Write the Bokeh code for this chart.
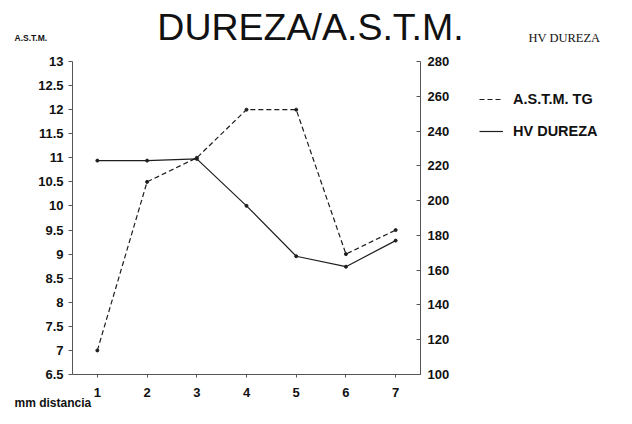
from bokeh.plotting import figure
from bokeh.models import Range1d, LinearAxis, FixedTicker, Legend, LegendItem, Label
from bokeh.embed import file_html
from bokeh.resources import INLINE

# ---- data ----
distance = [1, 2, 3, 4, 5, 6, 7]
astm_tg = [7, 10.5, 11, 12, 12, 9, 9.5]
hv_dureza = [223, 223, 224, 197, 168, 162, 177]

astm_ticks = [6.5, 7, 7.5, 8, 8.5, 9, 9.5, 10, 10.5, 11, 11.5, 12, 12.5, 13]
astm_tick_labels = ["6.5", "7", "7.5", "8", "8.5", "9", "9.5", "10", "10.5", "11", "11.5", "12", "12.5", "13"]
hv_ticks = [100, 120, 140, 160, 180, 200, 220, 240, 260, 280]

title_text = "DUREZA/A.S.T.M."
left_title = "A.S.T.M."
right_title = "HV DUREZA"
x_title = "mm distancia"
series_names = ["A.S.T.M. TG", "HV DUREZA"]

X_MIN, X_MAX = 0.5, 7.5
A_MIN, A_MAX = 6.5, 13
H_MIN, H_MAX = 100, 280

# ---- layout constants (pixels) ----
W, H = 616, 408
FL, FR, FT, FB = 72, 420, 61, 374   # plotting box on the canvas

FONT = "Liberation Sans"
INK = "#1e1e1e"
AXIS = "#555555"

xs = (X_MAX - X_MIN) / (FR - FL)
ys = (A_MAX - A_MIN) / (FB - FT)
hs = (H_MAX - H_MIN) / (FB - FT)

x_range = Range1d(X_MIN - FL * xs, X_MAX + (W - FR) * xs)
y_range = Range1d(A_MIN - (H - FB) * ys, A_MAX + FT * ys)
hv_range = Range1d(H_MIN - (H - FB) * hs, H_MAX + FT * hs)


def dx(px):
    return X_MIN + (px - FL) * xs


def dy(py):
    return A_MIN + (FB - py) * ys


p = figure(width=W, height=H, x_range=x_range, y_range=y_range,
           x_axis_type=None, y_axis_type=None,
           output_backend="svg", toolbar_location=None, min_border=0,
           min_border_left=0, min_border_right=0, min_border_top=0, min_border_bottom=0)
p.extra_y_ranges = {"hv": hv_range}
p.outline_line_color = None
p.background_fill_color = "white"
p.border_fill_color = "white"

xaxis = LinearAxis(fixed_location=A_MIN, bounds=(X_MIN, X_MAX), ticker=FixedTicker(ticks=distance))
laxis = LinearAxis(fixed_location=X_MIN, bounds=(A_MIN, A_MAX), ticker=FixedTicker(ticks=astm_ticks))
raxis = LinearAxis(fixed_location=X_MAX, bounds=(H_MIN, H_MAX), y_range_name="hv",
                   ticker=FixedTicker(ticks=hv_ticks))
laxis.major_label_overrides = {t: l for t, l in zip(astm_ticks, astm_tick_labels)}

for ax in [xaxis, laxis, raxis]:
    ax.axis_line_color = AXIS
    ax.axis_line_width = 1
    ax.major_tick_line_color = AXIS
    ax.minor_tick_line_color = None
    ax.major_label_text_font = FONT
    ax.major_label_text_font_style = "bold"
    ax.major_label_text_font_size = "13px"
    ax.major_label_text_color = "#111111"

xaxis.major_tick_out = 3
xaxis.major_tick_in = 0
xaxis.major_label_standoff = 10
laxis.major_tick_out = 4
laxis.major_tick_in = 0
laxis.major_label_standoff = 5
raxis.major_tick_out = 0
raxis.major_tick_in = 4
raxis.major_label_standoff = 7

p.add_layout(xaxis, "below")
p.add_layout(laxis, "left")
p.add_layout(raxis, "right")

l1 = p.line(distance, astm_tg, line_color=INK, line_width=1.2, line_dash="5 3")
p.scatter(distance, astm_tg, size=3, color=INK)
l2 = p.line(distance, hv_dureza, line_color=INK, line_width=1.2, y_range_name="hv")
p.scatter(distance, hv_dureza, size=3, color=INK, y_range_name="hv")

legend = Legend(items=[LegendItem(label=series_names[0], renderers=[l1]),
                       LegendItem(label=series_names[1], renderers=[l2])],
                location=(479, H - 141), border_line_color=None, background_fill_alpha=0,
                padding=10, glyph_width=24, glyph_height=20, label_height=20,
                label_standoff=10, spacing=12,
                label_text_font=FONT, label_text_font_style="bold", label_text_font_size="14.5px",
                label_text_color="#111111")
p.add_layout(legend, "center")

p.add_layout(Label(x=dx(310), y=dy(26), text=title_text, text_align="center",
                   text_baseline="middle", text_font=FONT, text_font_size="37.5px",
                   text_color="#111111"))
p.add_layout(Label(x=dx(14), y=dy(37), text=left_title, text_align="left",
                   text_baseline="middle", text_font=FONT, text_font_style="bold",
                   text_font_size="8.5px", text_color="#111111"))
p.add_layout(Label(x=dx(528), y=dy(37), text=right_title, text_align="left",
                   text_baseline="middle", text_font="Liberation Serif",
                   text_font_size="12.5px", text_color="#111111"))
p.add_layout(Label(x=dx(14), y=dy(402), text=x_title, text_align="left",
                   text_baseline="middle", text_font=FONT, text_font_style="bold",
                   text_font_size="12px", text_color="#111111"))

open("out.html", "w").write(file_html(p, INLINE))
